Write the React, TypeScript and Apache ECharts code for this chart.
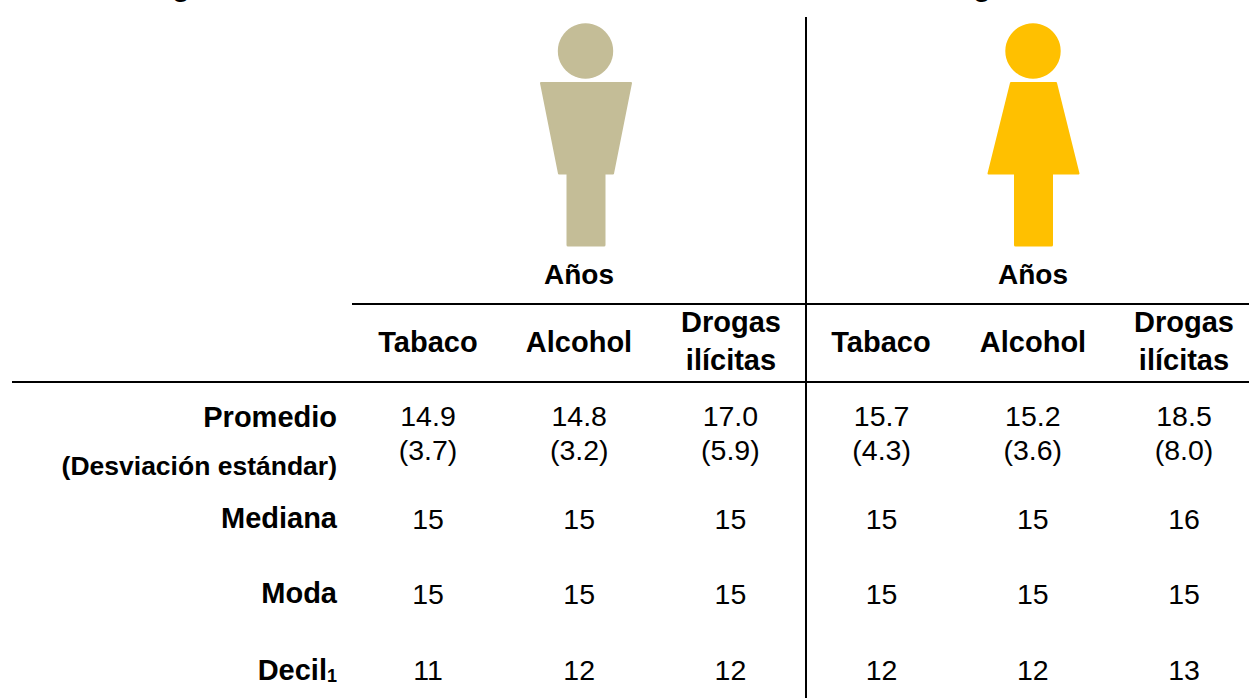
import React, { useEffect, useRef } from "react";
import * as echarts from "echarts";

const columns = ["Tabaco", "Alcohol", "Drogas\nilícitas", "Tabaco", "Alcohol", "Drogas\nilícitas"];
const promedio = ["14.9", "14.8", "17.0", "15.7", "15.2", "18.5"];
const desviacion = ["(3.7)", "(3.2)", "(5.9)", "(4.3)", "(3.6)", "(8.0)"];
const mediana = ["15", "15", "15", "15", "15", "16"];
const moda = ["15", "15", "15", "15", "15", "15"];
const decil = ["11", "12", "12", "12", "12", "13"];

const W = 1249;
const H = 698;
const FONT = '"Liberation Sans", Arial, sans-serif';
const TAN = "#C4BD97";
const GOLD = "#FFC000";

const rowY = { promedio: 416, desviacion: 450, mediana: 519, moda: 594, decil: 670 };
const colX = [428, 579, 731, 881, 1033, 1184];
const VALUE_SIZE = 28.5;
const HEAD_SIZE = 29;

function seriesFor(name: string, values: string[], y: number) {
  return {
    name,
    type: "scatter",
    symbolSize: 0,
    silent: true,
    itemStyle: { opacity: 1 },
    data: values.map((v, i) => ({
      value: [i, y],
      label: {
        show: true,
        formatter: v,
        position: "inside",
        color: "#000",
        opacity: 1,
        fontFamily: FONT,
        fontSize: VALUE_SIZE,
        align: "center",
        verticalAlign: "middle",
      },
    })),
  };
}

function head(text: string, x: number, y: number, size = HEAD_SIZE, align = "center") {
  return {
    type: "text",
    x,
    y,
    silent: true,
    style: {
      text,
      fill: "#000",
      font: `bold ${size}px ${FONT}`,
      align,
      verticalAlign: "middle",
      lineHeight: 38,
    },
  };
}

function line(x1: number, y1: number, x2: number, y2: number, w: number) {
  return {
    type: "line",
    silent: true,
    shape: { x1, y1, x2, y2 },
    style: { stroke: "#000", lineWidth: w },
  };
}

function figure(cx: number, color: string, topHalf: number, bottomHalf: number) {
  return {
    type: "group",
    silent: true,
    children: [
      { type: "circle", shape: { cx: cx - 0.5, cy: 51, r: 27.7 }, style: { fill: color } },
      {
        type: "polygon",
        shape: {
          points: [
            [cx - topHalf + 1, 83],
            [cx + topHalf - 1, 83],
            [cx + bottomHalf - 1, 173.5],
            [cx - bottomHalf + 1, 173.5],
          ],
        },
        style: { fill: color, stroke: color, lineWidth: 2, lineJoin: "round" },
      },
      {
        type: "rect",
        shape: { x: cx - 19.5, y: 170, width: 39, height: 76.5, r: 1.5 },
        style: { fill: color },
      },
    ],
  };
}

export default function App() {
  const ref = useRef<HTMLDivElement>(null);
  useEffect(() => {
    const chart = echarts.init(ref.current!, undefined, { renderer: "svg", width: W, height: H });
    chart.setOption({
      animation: false,
      grid: { left: colX[0], width: colX[5] - colX[0], top: 0, height: H },
      xAxis: { type: "value", min: 0, max: 5, show: false },
      yAxis: { type: "value", min: 0, max: H, inverse: true, show: false },
      series: [
        seriesFor("Promedio", promedio, rowY.promedio),
        seriesFor("Desviación estándar", desviacion, rowY.desviacion),
        seriesFor("Mediana", mediana, rowY.mediana),
        seriesFor("Moda", moda, rowY.moda),
        seriesFor("Decil", decil, rowY.decil),
      ],
      graphic: {
        elements: [
          figure(586, TAN, 46, 28),
          figure(1033.5, GOLD, 23.5, 46),
          line(806, 17, 806, 698, 2),
          line(352, 304, 1249, 304, 2),
          line(12, 382, 1249, 382, 2),
          head("g", 181, -14),
          head("g", 982, -14),
          head("Años", 579, 274, 28),
          head("Años", 1033, 274, 28),
          ...columns.map((c, i) => head(c, colX[i], c.includes("\n") ? 341 : 342)),
          head("Promedio", 337, 417, HEAD_SIZE, "right"),
          head("(Desviación estándar)", 337, 466, 26.5, "right"),
          head("Mediana", 337, 518, HEAD_SIZE, "right"),
          head("Moda", 337, 593, HEAD_SIZE, "right"),
          {
            type: "text",
            silent: true,
            x: 337,
            y: 670,
            style: {
              text: "Decil{sub|1}",
              fill: "#000",
              font: `bold 29px ${FONT}`,
              align: "right",
              verticalAlign: "middle",
              rich: {
                sub: { font: `bold 18px ${FONT}`, fill: "#000", verticalAlign: "bottom", padding: [10, 0, 0, 0] },
              },
            },
          },
        ],
      },
    });
    return () => chart.dispose();
  }, []);
  return <div ref={ref} style={{ position: "fixed", left: 0, top: 0, width: W, height: H, background: "#fff" }} />;
}
